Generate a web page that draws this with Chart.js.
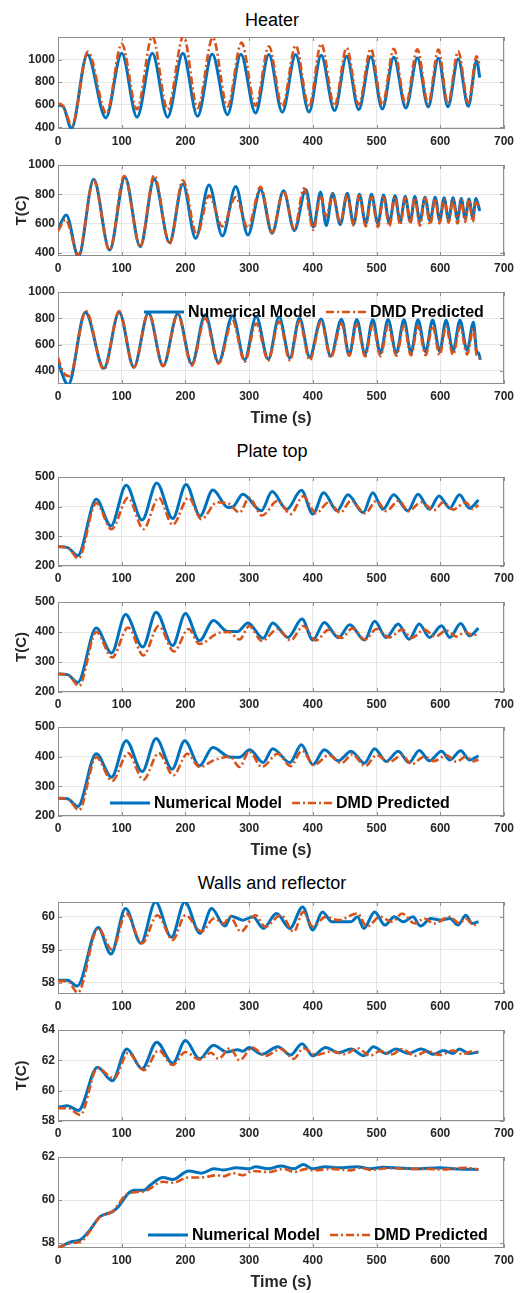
<!DOCTYPE html>
<html><head><meta charset="utf-8">
<script src="https://cdn.jsdelivr.net/npm/chart.js@4.4.0/dist/chart.umd.min.js"></script>
<style>
html,body{margin:0;padding:0;background:#fff}
body{width:525px;height:1293px;position:relative;overflow:hidden;font-family:"Liberation Sans",Arial,Helvetica,sans-serif}
.ttl{position:absolute;left:0;width:544px;text-align:center;font-size:18px;line-height:20px;color:#000}
canvas{position:absolute;left:0}
</style></head><body>
<div class="ttl" style="top:10px">Heater</div>
<div class="ttl" style="top:441px">Plate top</div>
<div class="ttl" style="top:873px">Walls and reflector</div>
<canvas id="p1"></canvas><canvas id="p2"></canvas><canvas id="p3"></canvas>
<canvas id="p4"></canvas><canvas id="p5"></canvas><canvas id="p6"></canvas>
<canvas id="p7"></canvas><canvas id="p8"></canvas><canvas id="p9"></canvas>
<script>
// ---------------- DATA ----------------
const seriesNames = ['Numerical Model', 'DMD Predicted'];
const xTicks = [0, 100, 200, 300, 400, 500, 600, 700];
const heaterTicks = [400, 600, 800, 1000];
const plateTicks = [200, 300, 400, 500];
const walls1Ticks = [58, 59, 60];
const walls2Ticks = [58, 60, 62, 64];
const walls3Ticks = [58, 60, 62];

// Heater, panel 1
const heater1NumTime = [0, 8, 21, 46, 75, 100, 124, 148, 172, 196, 219, 242, 266, 287, 310, 331, 352, 373, 394, 413, 434, 453, 472, 491, 509, 527, 546, 564, 581, 597, 612, 628, 644, 657, 662];
const heater1Num = [595, 585, 390, 1045, 485, 1055, 490, 1055, 490, 1055, 497, 1050, 512, 1048, 527, 1044, 533, 1044, 535, 1038, 548, 1030, 557, 1024, 562, 1020, 571, 1015, 580, 1012, 582, 1006, 586, 990, 840];
const heater1DmdTime = [0, 8, 22, 47, 76, 100, 124, 148, 172, 197, 219, 243, 266, 288, 310, 331, 352, 373, 394, 413, 434, 453, 472, 491, 509, 527, 546, 564, 581, 597, 612, 628, 644, 657, 662];
const heater1Dmd = [612, 590, 418, 1070, 525, 1140, 560, 1205, 560, 1210, 570, 1195, 585, 1150, 592, 1118, 586, 1124, 580, 1140, 590, 1103, 600, 1095, 600, 1095, 605, 1090, 608, 1088, 610, 1074, 615, 1030, 950];

// Heater, panel 2
const heater2NumTime = [0, 13, 32, 56, 81, 105, 129, 151, 175, 196, 216, 237, 258, 279, 298, 318, 336, 354, 371, 389, 401, 412, 421, 431, 443, 454, 464, 473, 483, 492, 502, 511, 520, 529, 537, 545, 553, 560, 568, 576, 584, 592, 599, 606, 613, 620, 627, 633, 639, 645, 651, 656, 662];
const heater2Num = [560, 658, 372, 902, 418, 916, 441, 902, 469, 870, 498, 863, 514, 852, 521, 833, 532, 824, 551, 833, 575, 815, 585, 806, 592, 806, 595, 800, 598, 800, 600, 795, 605, 790, 610, 785, 612, 785, 615, 780, 618, 780, 622, 775, 625, 775, 630, 770, 635, 768, 640, 770, 685];
const heater2DmdTime = [0, 12, 32, 56, 81, 104, 129, 151, 175, 196, 218, 237, 258, 279, 298, 318, 336, 354, 371, 386, 401, 412, 421, 431, 443, 454, 464, 473, 483, 492, 502, 511, 520, 529, 537, 545, 553, 560, 568, 576, 584, 592, 599, 606, 613, 620, 627, 633, 639, 645, 651, 656, 662];
const heater2Dmd = [548, 625, 385, 895, 415, 925, 440, 930, 460, 895, 520, 790, 580, 780, 570, 850, 540, 820, 560, 840, 555, 790, 650, 800, 600, 795, 585, 790, 580, 780, 575, 780, 580, 780, 590, 775, 600, 775, 585, 775, 590, 770, 600, 765, 605, 765, 600, 760, 610, 765, 610, 745, 705];

// Heater, panel 3
const heater3NumTime = [0, 16, 43, 72, 96, 119, 142, 165, 188, 210, 231, 252, 274, 293, 311, 330, 347, 364, 379, 395, 413, 428, 445, 457, 469, 482, 494, 506, 518, 531, 543, 554, 565, 577, 588, 599, 609, 620, 631, 642, 652, 657, 660, 663];
const heater3Num = [465, 295, 845, 420, 845, 428, 840, 438, 835, 453, 827, 464, 820, 484, 814, 489, 809, 497, 802, 504, 795, 512, 793, 520, 790, 527, 790, 533, 790, 537, 788, 540, 788, 545, 787, 548, 785, 552, 785, 555, 770, 550, 535, 484];
const heater3DmdTime = [0, 8, 18, 44, 72, 96, 119, 142, 165, 188, 210, 231, 252, 274, 293, 311, 330, 347, 364, 379, 395, 413, 428, 445, 457, 469, 482, 494, 506, 518, 531, 543, 554, 565, 577, 588, 599, 609, 620, 631, 642, 652, 657, 663];
const heater3Dmd = [500, 390, 360, 855, 410, 855, 425, 845, 435, 830, 440, 800, 455, 780, 470, 760, 480, 775, 480, 780, 480, 775, 500, 760, 515, 755, 510, 750, 512, 745, 515, 745, 518, 740, 520, 740, 520, 738, 522, 735, 525, 720, 520, 495];

// Plate top, panel 1
const plate1NumTime = [0, 15, 31, 60, 83, 107, 132, 155, 180, 201, 223, 243, 267, 275, 290, 319, 336, 359, 382, 400, 417, 438, 455, 479, 494, 510, 527, 549, 565, 583, 598, 615, 630, 646, 660];
const plate1Num = [265, 262, 235, 425, 335, 472, 355, 480, 360, 475, 369, 456, 397, 400, 442, 386, 451, 391, 455, 375, 447, 386, 440, 380, 447, 391, 440, 386, 442, 391, 436, 395, 440, 395, 423];
const plate1DmdTime = [0, 15, 32, 60, 84, 110, 134, 158, 180, 205, 225, 250, 268, 285, 300, 320, 345, 365, 385, 405, 425, 443, 460, 482, 500, 515, 535, 550, 570, 590, 605, 620, 640, 650, 660];
const plate1Dmd = [265, 262, 225, 412, 324, 430, 324, 430, 339, 430, 358, 415, 410, 380, 430, 370, 420, 375, 435, 378, 415, 380, 420, 378, 420, 385, 420, 385, 415, 388, 415, 390, 415, 392, 405];

// Plate top, panel 2
const plate2NumTime = [0, 15, 31, 60, 84, 106, 133, 154, 180, 200, 222, 244, 266, 282, 298, 322, 337, 361, 383, 400, 418, 440, 458, 481, 497, 515, 534, 551, 567, 583, 602, 615, 632, 646, 660];
const plate2Num = [260, 258, 232, 413, 330, 458, 350, 466, 355, 462, 371, 438, 402, 402, 430, 379, 430, 382, 443, 373, 432, 381, 424, 373, 436, 382, 427, 376, 427, 382, 421, 382, 428, 387, 413];
const plate2DmdTime = [0, 15, 33, 60, 85, 110, 134, 158, 182, 205, 222, 250, 268, 285, 300, 320, 345, 365, 385, 405, 425, 445, 462, 482, 500, 520, 540, 555, 575, 592, 610, 625, 640, 650, 660];
const plate2Dmd = [260, 258, 220, 400, 315, 415, 322, 420, 335, 410, 360, 395, 400, 375, 420, 370, 410, 372, 420, 372, 408, 380, 412, 375, 410, 382, 408, 380, 408, 385, 405, 385, 400, 388, 395];

// Plate top, panel 3
const plate3NumTime = [0, 15, 31, 60, 84, 107, 132, 154, 179, 199, 222, 243, 269, 285, 301, 322, 337, 364, 382, 400, 418, 440, 460, 481, 497, 515, 534, 551, 567, 583, 602, 615, 632, 646, 660];
const plate3Num = [260, 258, 232, 410, 331, 454, 350, 461, 358, 454, 369, 431, 399, 398, 423, 380, 427, 380, 440, 373, 423, 386, 418, 378, 427, 384, 418, 380, 421, 386, 418, 389, 420, 389, 403];
const plate3DmdTime = [0, 15, 33, 60, 85, 110, 134, 158, 181, 203, 222, 245, 270, 285, 300, 320, 345, 365, 383, 402, 425, 445, 462, 482, 500, 520, 540, 555, 575, 590, 610, 625, 640, 652, 660];
const plate3Dmd = [260, 258, 220, 398, 318, 412, 322, 412, 337, 410, 365, 388, 400, 365, 418, 365, 410, 368, 420, 372, 405, 378, 408, 368, 405, 382, 405, 375, 400, 385, 405, 383, 400, 385, 390];

// Walls and reflector, panel 1
const walls1NumTime = [0, 15, 30, 63, 83, 106, 130, 153, 178, 199, 223, 241, 262, 272, 290, 306, 322, 343, 364, 384, 400, 415, 430, 460, 470, 480, 497, 513, 528, 542, 557, 569, 585, 600, 615, 628, 640, 650, 660];
const walls1Num = [58.08, 58.08, 57.9, 59.68, 58.87, 60.25, 59.2, 60.45, 59.38, 60.45, 59.5, 60.25, 59.72, 60.02, 59.9, 60.0, 59.65, 60.1, 59.65, 60.3, 59.6, 60.15, 59.85, 59.85, 60.0, 59.65, 60.15, 59.75, 60.0, 59.85, 60.0, 59.72, 59.95, 59.9, 59.95, 59.75, 60.05, 59.8, 59.85];
const walls1DmdTime = [0, 15, 31, 63, 85, 107, 132, 156, 180, 200, 225, 245, 260, 270, 287, 310, 325, 350, 370, 385, 400, 420, 440, 470, 485, 505, 525, 540, 560, 575, 590, 615, 630, 640, 650, 660];
const walls1Dmd = [58.05, 58.05, 57.7, 59.65, 59.0, 60.1, 59.2, 60.05, 59.3, 60.05, 59.55, 59.95, 59.8, 60.0, 59.55, 60.05, 59.7, 60.05, 59.55, 60.15, 59.7, 60.0, 59.9, 60.1, 59.7, 60.0, 59.85, 60.1, 59.8, 59.95, 59.8, 60.0, 59.8, 59.95, 59.78, 59.75];

// Walls and reflector, panel 2
const walls2NumTime = [0, 15, 32, 62, 85, 108, 132, 155, 180, 200, 222, 244, 265, 282, 290, 300, 320, 345, 365, 383, 400, 420, 440, 460, 480, 495, 515, 530, 550, 570, 590, 605, 620, 630, 645, 660];
const walls2Num = [58.9, 59.0, 58.7, 61.55, 60.65, 62.75, 61.45, 63.2, 61.8, 63.3, 62.1, 63.0, 62.55, 62.7, 62.6, 62.85, 62.4, 62.9, 62.35, 63.1, 62.3, 62.85, 62.5, 62.75, 62.3, 62.9, 62.45, 62.75, 62.45, 62.75, 62.4, 62.65, 62.45, 62.75, 62.45, 62.55];
const walls2DmdTime = [0, 15, 35, 62, 88, 110, 135, 158, 180, 200, 222, 240, 252, 270, 285, 305, 325, 350, 370, 385, 405, 430, 450, 470, 490, 505, 525, 540, 560, 580, 600, 620, 635, 650, 660];
const walls2Dmd = [58.85, 58.85, 58.4, 61.5, 60.8, 62.5, 61.35, 62.65, 61.7, 62.55, 62.05, 62.5, 62.1, 62.8, 62.0, 62.85, 62.3, 62.75, 62.1, 62.8, 62.35, 62.6, 62.4, 62.8, 62.3, 62.6, 62.4, 62.75, 62.3, 62.6, 62.35, 62.65, 62.4, 62.6, 62.5];

// Walls and reflector, panel 3
const walls3NumTime = [0, 10, 20, 35, 50, 65, 75, 85, 95, 110, 120, 135, 145, 165, 180, 205, 225, 245, 260, 280, 300, 310, 330, 350, 370, 385, 400, 420, 440, 470, 490, 510, 560, 600, 620, 660];
const walls3Num = [57.78, 57.92, 58.05, 58.15, 58.6, 59.2, 59.35, 59.45, 59.7, 60.3, 60.45, 60.45, 60.7, 61.05, 60.95, 61.35, 61.25, 61.45, 61.4, 61.5, 61.45, 61.55, 61.45, 61.58, 61.45, 61.65, 61.45, 61.55, 61.5, 61.55, 61.45, 61.52, 61.45, 61.5, 61.45, 61.42];
const walls3DmdTime = [0, 20, 35, 50, 65, 85, 110, 135, 165, 180, 205, 225, 250, 260, 275, 290, 305, 330, 355, 370, 390, 400, 430, 460, 475, 490, 520, 550, 580, 600, 640, 660];
const walls3Dmd = [57.78, 58.0, 58.05, 58.55, 59.2, 59.45, 60.3, 60.4, 60.85, 60.8, 61.05, 61.05, 61.15, 61.1, 61.25, 61.15, 61.35, 61.3, 61.45, 61.3, 61.45, 61.38, 61.45, 61.38, 61.5, 61.4, 61.48, 61.45, 61.45, 61.42, 61.5, 61.42];

// ---------------- STYLE / LAYOUT ----------------
const FONT = '"Liberation Sans", Arial, Helvetica, sans-serif';
const BLUE = '#0072BD', ORANGE = '#D95319';
const PAD_TOP = 12, RIGHT_PAD = 21, Y_AXIS_W = 58;

const panels = [
  {id:'p1', top:37,   bottom:129,  yMin:385,   yMax:1200,  yTicks:heaterTicks, num:[heater1NumTime, heater1Num], dmd:[heater1DmdTime, heater1Dmd]},
  {id:'p2', top:165,  bottom:256,  yMin:377,   yMax:1000,  yTicks:heaterTicks, num:[heater2NumTime, heater2Num], dmd:[heater2DmdTime, heater2Dmd], yTitle:true},
  {id:'p3', top:292,  bottom:384,  yMin:300,   yMax:1000,  yTicks:heaterTicks, num:[heater3NumTime, heater3Num], dmd:[heater3DmdTime, heater3Dmd], xTitle:true, legend:{left:144, fromTop:20}},
  {id:'p4', top:477,  bottom:566,  yMin:200,   yMax:500,   yTicks:plateTicks,  num:[plate1NumTime, plate1Num], dmd:[plate1DmdTime, plate1Dmd]},
  {id:'p5', top:602,  bottom:692,  yMin:200,   yMax:500,   yTicks:plateTicks,  num:[plate2NumTime, plate2Num], dmd:[plate2DmdTime, plate2Dmd], yTitle:true},
  {id:'p6', top:727,  bottom:816,  yMin:200,   yMax:500,   yTicks:plateTicks,  num:[plate3NumTime, plate3Num], dmd:[plate3DmdTime, plate3Dmd], xTitle:true, legend:{left:110, fromBottom:13}},
  {id:'p7', top:902,  bottom:994,  yMin:57.66, yMax:60.45, yTicks:walls1Ticks, num:[walls1NumTime, walls1Num], dmd:[walls1DmdTime, walls1Dmd]},
  {id:'p8', top:1030, bottom:1121, yMin:58,    yMax:64,    yTicks:walls2Ticks, num:[walls2NumTime, walls2Num], dmd:[walls2DmdTime, walls2Dmd], yTitle:true},
  {id:'p9', top:1157, bottom:1248, yMin:57.77, yMax:62,    yTicks:walls3Ticks, num:[walls3NumTime, walls3Num], dmd:[walls3DmdTime, walls3Dmd], xTitle:true, legend:{left:148, fromBottom:13}}
];

const boxPlugin = {
  id: 'axesBox',
  beforeDatasetsDraw(chart) {
    const {ctx, chartArea: a, scales: {x, y}} = chart;
    ctx.save();
    ctx.strokeStyle = '#8e8e8e';
    ctx.lineWidth = 1;
    ctx.strokeRect(Math.round(a.left) + 0.5, Math.round(a.top) + 0.5, Math.round(a.width) - 1, Math.round(a.height) - 1);
    ctx.beginPath();
    x.ticks.forEach(t => {
      const px = Math.round(x.getPixelForValue(t.value)) + 0.5;
      ctx.moveTo(px, a.bottom); ctx.lineTo(px, a.bottom - 4);
      ctx.moveTo(px, a.top); ctx.lineTo(px, a.top + 4);
    });
    y.ticks.forEach(t => {
      const py = Math.round(y.getPixelForValue(t.value)) + 0.5;
      ctx.moveTo(a.left, py); ctx.lineTo(a.left + 4, py);
      ctx.moveTo(a.right, py); ctx.lineTo(a.right - 4, py);
    });
    ctx.stroke();
    ctx.restore();
  }
};

const inlineLegend = {
  id: 'inlineLegend',
  afterDatasetsDraw(chart, args, opts) {
    if (!opts || !opts.show) return;
    const {ctx, chartArea: a} = chart;
    const cy = opts.fromTop != null ? a.top + opts.fromTop : a.bottom - opts.fromBottom;
    let x = opts.left;
    ctx.save();
    ctx.font = 'bold 16px ' + FONT;
    ctx.textBaseline = 'middle';
    ctx.fillStyle = '#000';
    const items = chart.data.datasets.slice().sort((p, q) => p.legendIndex - q.legendIndex);
    items.forEach(ds => {
      ctx.save();
      ctx.strokeStyle = ds.borderColor;
      ctx.lineWidth = ds.borderWidth;
      ctx.setLineDash(ds.borderDash || []);
      ctx.beginPath();
      ctx.moveTo(x, cy); ctx.lineTo(x + 40, cy);
      ctx.stroke();
      ctx.restore();
      ctx.fillText(ds.label, x + 44, cy + 1);
      x += 44 + ctx.measureText(ds.label).width + 10;
    });
    ctx.restore();
  }
};

function pts(t, v) { return t.map((tt, i) => ({x: tt, y: v[i]})); }

panels.forEach(p => {
  const xH = p.xTitle ? 44 : 24;
  const cv = document.getElementById(p.id);
  const H = PAD_TOP + (p.bottom - p.top) + xH;
  cv.width = 525; cv.height = H;
  cv.style.width = '525px'; cv.style.height = H + 'px';
  cv.style.top = (p.top - PAD_TOP) + 'px';
  const tickFont = {family: FONT, size: 12, weight: 'bold'};
  new Chart(cv, {
    type: 'line',
    data: {
      datasets: [
        {label: seriesNames[0], legendIndex: 0, data: pts(p.num[0], p.num[1]), borderColor: BLUE, borderWidth: 3,
         pointRadius: 0, cubicInterpolationMode: 'monotone', fill: false, order: 1, clip: 0},
        {label: seriesNames[1], legendIndex: 1, data: pts(p.dmd[0], p.dmd[1]), borderColor: ORANGE, borderWidth: 2.6,
         borderDash: [8, 3, 2, 3], pointRadius: 0, cubicInterpolationMode: 'monotone', fill: false, order: 0, clip: 0}
      ]
    },
    options: {
      responsive: false, animation: false, devicePixelRatio: 1, events: [],
      layout: {padding: {top: PAD_TOP, right: RIGHT_PAD, left: 0, bottom: 0}},
      plugins: {
        legend: {display: false}, tooltip: {enabled: false},
        inlineLegend: p.legend ? Object.assign({show: true}, p.legend) : {show: false}
      },
      scales: {
        x: {
          type: 'linear', min: 0, max: 700,
          afterBuildTicks: s => { s.ticks = xTicks.map(v => ({value: v})); },
          afterFit: s => { s.height = xH; },
          grid: {color: '#e6e6e6', drawTicks: false},
          border: {display: false},
          ticks: {padding: 5, font: tickFont, color: '#262626', maxRotation: 0, autoSkip: false, callback: v => String(v)},
          title: {display: !!p.xTitle, text: 'Time (s)', color: '#262626', padding: 0, font: {family: FONT, size: 16, weight: 'bold'}}
        },
        y: {
          type: 'linear', min: p.yMin, max: p.yMax,
          afterBuildTicks: s => { s.ticks = p.yTicks.map(v => ({value: v})); },
          afterFit: s => { s.width = Y_AXIS_W; },
          grid: {color: '#e6e6e6', drawTicks: false},
          border: {display: false},
          ticks: {padding: 3, font: tickFont, color: '#262626', autoSkip: false, callback: v => String(v)},
          title: {display: !!p.yTitle, text: 'T(C)', color: '#262626', padding: {top: 13, bottom: 0}, font: {family: FONT, size: 15, weight: 'bold'}}
        }
      }
    },
    plugins: [boxPlugin, inlineLegend]
  });
});
</script>
</body></html>
